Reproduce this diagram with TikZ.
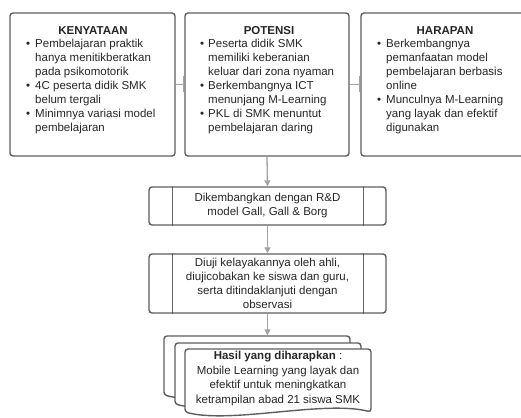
\documentclass[tikz,border=0pt]{standalone}
\usepackage{fontspec}
\setmainfont{Liberation Sans}
\usetikzlibrary{arrows.meta}
\definecolor{bord}{HTML}{5E5E5E}
\definecolor{conn}{HTML}{A3A3A3}
\definecolor{txt}{HTML}{262626}
\newcommand\mydocpage[4]{%
  \filldraw[docpage] (#1,#4) -- (#1,#2) -- (#3,#2) -- (#3,#4)
    .. controls ({#1+0.75*(#3-#1)},#4-12) and ({#1+0.25*(#3-#1)},#4+12) .. (#1,#4) -- cycle;}
\begin{document}
\begin{tikzpicture}[x=1pt,y=-1pt,
  font=\fontsize{11.5}{14}\selectfont, text=txt,
  box/.style={draw=bord, line width=1.4pt, rounded corners=3pt, fill=white, inner sep=0pt},
  ttl/.style={anchor=base, inner sep=0pt, font=\fontsize{11.5}{14}\selectfont\bfseries},
  lst/.style={anchor=base west, inner sep=0pt},
  docpage/.style={fill=white, draw=bord, line width=1.4pt, rounded corners=3pt},
  arr/.style={draw=conn, line width=1.3pt, -{Triangle[length=6pt,width=6pt]}},
  barc/.style={draw=conn, line width=1.3pt, -{Bar[width=16pt]}},
  inner/.style={draw=bord, line width=1.4pt}]
\useasboundingbox (0,0) rectangle (521,417);
\begin{scope}
\clip (0,0) rectangle (521,417);
% top boxes
\node[box, minimum width=165pt, minimum height=143pt] (k) at (92.5,84.5) {};
\node[box, minimum width=164pt, minimum height=143pt] (p) at (267,84.5) {};
\node[box, minimum width=165pt, minimum height=143pt] (h) at (443.5,84.5) {};
\node[ttl] (kt) at (93,35) {KENYATAAN};
\node[ttl] (pt) at (269,35) {POTENSI};
\node[ttl] (ht) at (445,35) {HARAPAN};
\node[lst] (kl) at (26,48) {\begin{tabular}[t]{@{}l@{\hspace{5pt}}l@{}}
\textbullet & Pembelajaran praktik\\
 & hanya menitikberatkan\\
 & pada psikomotorik\\
\textbullet & 4C peserta didik SMK\\
 & belum tergali\\
\textbullet & Minimnya variasi model\\
 & pembelajaran
\end{tabular}};
\node[lst] (pl) at (200,48) {\begin{tabular}[t]{@{}l@{\hspace{4pt}}l@{}}
\textbullet & Peserta didik SMK\\
 & memiliki keberanian\\
 & keluar dari zona nyaman\\
\textbullet & Berkembangnya ICT\\
 & menunjang M-Learning\\
\textbullet & PKL di SMK menuntut\\
 & pembelajaran daring
\end{tabular}};
\node[lst] (hl) at (377,48) {\begin{tabular}[t]{@{}l@{\hspace{5pt}}l@{}}
\textbullet & Berkembangnya\\
 & pemanfaatan model\\
 & pembelajaran berbasis\\
 & online\\
\textbullet & Munculnya M-Learning\\
 & yang layak dan efektif\\
 & digunakan
\end{tabular}};
\draw[barc] (k.east) -- (p.west);
\draw[barc] (p.east) -- (h.west);
% process boxes
\node[box, minimum width=237pt, minimum height=38pt, align=center] (d) at (267.5,206)
  {Dikembangkan dengan R\&D\\model Gall, Gall \& Borg};
\draw[inner] ([xshift=24pt]d.north west) -- ([xshift=24pt]d.south west);
\draw[inner] ([xshift=-23pt]d.north east) -- ([xshift=-23pt]d.south east);
\node[box, minimum width=237pt, minimum height=59pt, align=center] (u) at (267.5,283.5)
  {Diuji kelayakannya oleh ahli,\\diujicobakan ke siswa dan guru,\\serta ditindaklanjuti dengan\\observasi};
\draw[inner] ([xshift=24pt]u.north west) -- ([xshift=24pt]u.south west);
\draw[inner] ([xshift=-23pt]u.north east) -- ([xshift=-23pt]u.south east);
\draw[arr] (p.south) -- (d.north);
\draw[arr] (d.south) -- (u.north);
% multi-document
\mydocpage{164}{336}{350}{395}
\mydocpage{175}{343}{361}{404}
\mydocpage{185}{349}{371}{412}
\coordinate (docin) at (267.5,335.3);
\draw[arr] (u.south) -- (docin);
\node[align=center, inner sep=0pt, font=\fontsize{11.5}{14.5}\selectfont] (res) at (278,378.5)
  {\textbf{Hasil yang diharapkan} :\\Mobile Learning yang layak dan\\efektif untuk meningkatkan\\ketrampilan abad 21 siswa SMK};
\end{scope}
\end{tikzpicture}
\end{document}
